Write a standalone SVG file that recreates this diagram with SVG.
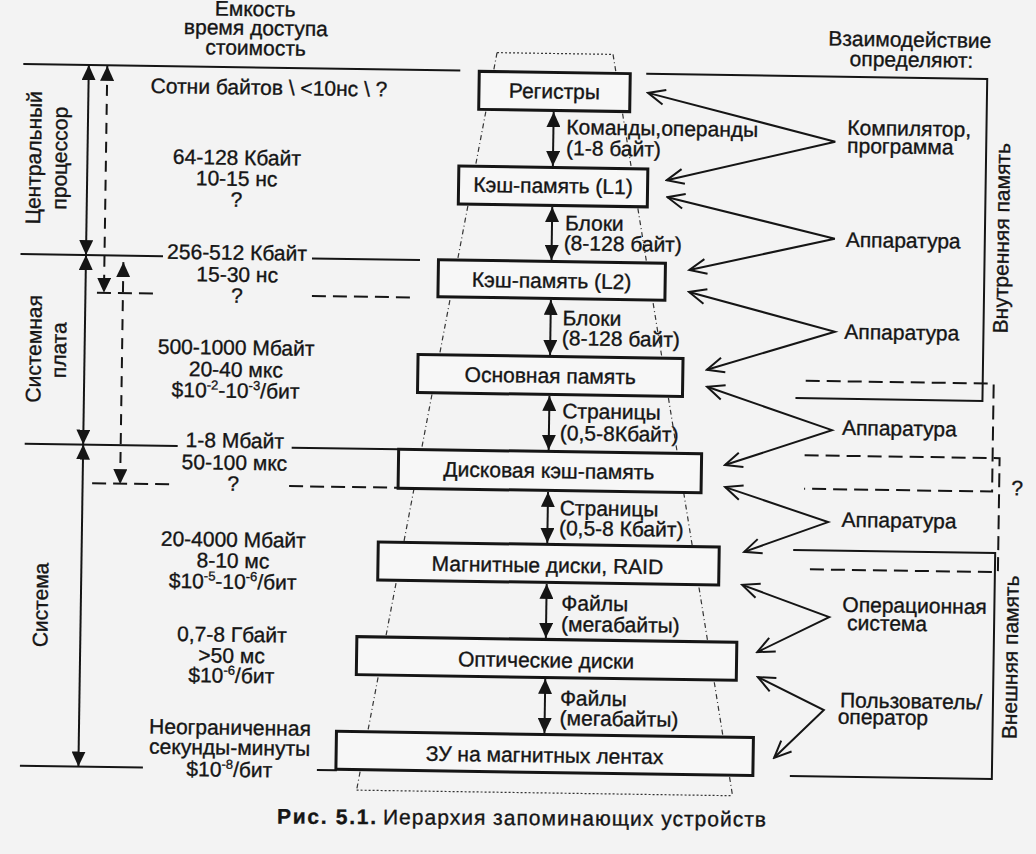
<svg xmlns="http://www.w3.org/2000/svg" width="1036" height="854" viewBox="0 0 1036 854">
<style>
text{font-family:"Liberation Sans",Arial,Helvetica,sans-serif;font-size:21px;fill:#151515;stroke:#151515;stroke-width:0.35}
.c{text-anchor:middle}
.sup{font-size:13px}
.box{fill:#f7f7f7;stroke:#151515;stroke-width:3}
.ln{fill:none;stroke:#151515;stroke-width:2}
.dl{fill:none;stroke:#151515;stroke-width:2;stroke-dasharray:14 7}
.vd{fill:none;stroke:#151515;stroke-width:2;stroke-dasharray:11 8}
.dot{fill:none;stroke:#333;stroke-width:1.2;stroke-dasharray:2 2}
.dd{fill:none;stroke:#333;stroke-width:1.2;stroke-dasharray:5 3 1 3}
.fa{marker-start:url(#fa);marker-end:url(#fa)}
.oa{fill:none;stroke:#151515;stroke-width:2;marker-start:url(#oa);marker-end:url(#oa)}
</style>
<defs>
<marker id="fa" viewBox="0 0 15 14" refX="15" refY="7" markerWidth="15" markerHeight="14" markerUnits="userSpaceOnUse" orient="auto-start-reverse"><path d="M0,0 L15,7 L0,14 z" fill="#151515"/></marker>
<marker id="oa" viewBox="-2 -2 21 19" refX="17" refY="7.5" markerWidth="21" markerHeight="19" markerUnits="userSpaceOnUse" orient="auto-start-reverse"><path d="M0,0 L17,7.5 L0,15" fill="none" stroke="#151515" stroke-width="2"/></marker>
</defs>
<rect x="0" y="0" width="1036" height="854" fill="#f3f3f3"/>
<g transform="rotate(0.85 518 427)">
  <g id="trapezoid">
    <path class="dot" d="M491.5,53 H607.5 M362,792.5 H738"/>
    <path class="dd" d="M491.5,53 L362,792.5 M607.5,53 L738,792.5"/>
  </g>
  <g id="connectors">
    <path class="ln fa" d="M549,111.5 V165.5"/>
    <path class="ln fa" d="M549,206.5 V259.5"/>
    <path class="ln fa" d="M549,299.5 V354.5"/>
    <path class="ln fa" d="M549,395.5 V449.5"/>
    <path class="ln fa" d="M549,491.5 V542.5"/>
    <path class="ln fa" d="M549,583.5 V637.5"/>
    <path class="ln fa" d="M549,678.5 V732.5"/>
    <path class="oa" d="M643,91 L831,137 L663,178"/>
    <path class="oa" d="M664,195 L832,234 L687,267.5"/>
    <path class="oa" d="M687,289.5 L833.5,327 L706,367"/>
    <path class="oa" d="M706.5,384 L832,425.5 L725.5,462"/>
    <path class="oa" d="M726,484 L829.5,517.5 L746,548.5"/>
    <path class="oa" d="M744.5,581.5 L832,612.5 L760.5,648.5"/>
    <path class="oa" d="M761.5,673.5 L828,705.5 L779,754"/>
    <path class="ln" d="M18,71.5 H455"/>
    <path class="ln" d="M18,261.5 H160.5 M309.5,261.5 H417.5"/>
    <path class="ln" d="M25,451 H178 M292,451 H399"/>
    <path class="ln" d="M25,773 H148 M322,773 H342"/>
    <path class="dl" d="M95,299 H155 M310,299 H411"/>
    <path class="dl" d="M93,489.5 H173 M290,489.5 H398"/>
    <path class="ln fa" d="M83.5,71.5 V261.5"/>
    <path class="ln fa" d="M83.5,261.5 V451"/>
    <path class="ln fa" d="M83.5,451 V773"/>
    <path class="vd fa" d="M102,72 V299"/>
    <path class="vd fa" d="M121,268 V490"/>
    <path class="ln" d="M641,72 H982 V394 H795"/>
    <path class="dl" d="M805,376.5 H993 V484.5 H805"/>
    <path class="dl" d="M805,451 H1000 V565 H805"/>
    <path class="ln" d="M795,546 H997 V772 H795"/>
  </g>
  <g id="n-reg"><rect class="box" x="474" y="72" width="151" height="38"/><text class="c" x="549.5" y="98">Регистры</text></g>
  <g id="n-l1"><rect class="box" x="455" y="167" width="189" height="38"/><text class="c" x="549.5" y="192.5">Кэш-память (L1)</text></g>
  <g id="n-l2"><rect class="box" x="436" y="261" width="227" height="37"/><text class="c" x="549.5" y="287.5">Кэш-память (L2)</text></g>
  <g id="n-main"><rect class="box" x="417" y="356" width="265" height="38"/><text class="c" x="549.5" y="382.5">Основная память</text></g>
  <g id="n-diskcache"><rect class="box" x="399" y="451" width="303" height="39"/><text class="c" x="549.5" y="477.5">Дисковая кэш-память</text></g>
  <g id="n-magdisk"><rect class="box" x="380" y="544" width="341" height="38"/><text class="c" x="549.5" y="572">Магнитные диски, RAID</text></g>
  <g id="n-optical"><rect class="box" x="360" y="639" width="380" height="38"/><text class="c" x="549.5" y="667">Оптические диски</text></g>
  <g id="n-tape"><rect class="box" x="341" y="734" width="417" height="38"/><text class="c" x="549.5" y="762">ЗУ на магнитных лентах</text></g>
  <g id="transfer-labels">
    <text x="562" y="133.5">Команды,операнды</text>
    <text x="562" y="154.5">(1-8 байт)</text>
    <text x="562" y="229.5">Блоки</text>
    <text x="561" y="249.5">(8-128 байт)</text>
    <text x="561" y="324.5">Блоки</text>
    <text x="560.5" y="344.5">(8-128 байт)</text>
    <text x="562" y="417.5">Страницы</text>
    <text x="560" y="439.5">(0,5-8Кбайт)</text>
    <text x="561" y="514.5">Страницы</text>
    <text x="560.5" y="534.5">(0,5-8 Кбайт)</text>
    <text x="564" y="609.5">Файлы</text>
    <text x="564" y="630.5">(мегабайты)</text>
    <text x="564" y="704.5">Файлы</text>
    <text x="564" y="724.5">(мегабайты)</text>
  </g>
  <g id="left-header">
    <text class="c" x="249" y="20">Емкость</text>
    <text class="c" x="250" y="39">время доступа</text>
    <text class="c" x="250" y="59">стоимость</text>
  </g>
  <g id="left-values">
    <text class="c" x="264" y="98.5">Сотни байтов \ &lt;10нс \ ?</text>
    <text class="c" x="233" y="169">64-128 Кбайт</text>
    <text class="c" x="233" y="190">10-15 нс</text>
    <text class="c" x="233" y="211">?</text>
    <text class="c" x="234.5" y="264">256-512 Кбайт</text>
    <text class="c" x="235" y="286">15-30 нс</text>
    <text class="c" x="235" y="307">?</text>
    <text class="c" x="235" y="359">500-1000 Мбайт</text>
    <text class="c" x="235" y="381">20-40 мкс</text>
    <text class="c" x="235" y="402">$10<tspan class="sup" dy="-8">-2</tspan><tspan dy="8">-10</tspan><tspan class="sup" dy="-8">-3</tspan><tspan dy="8">/бит</tspan></text>
    <text class="c" x="235" y="452">1-8 Мбайт</text>
    <text class="c" x="235" y="474">50-100 мкс</text>
    <text class="c" x="234" y="495">?</text>
    <text class="c" x="235" y="551">20-4000 Мбайт</text>
    <text class="c" x="235" y="572">8-10 мс</text>
    <text class="c" x="235" y="593">$10<tspan class="sup" dy="-8">-5</tspan><tspan dy="8">-10</tspan><tspan class="sup" dy="-8">-6</tspan><tspan dy="8">/бит</tspan></text>
    <text class="c" x="235" y="646">0,7-8 Гбайт</text>
    <text class="c" x="235" y="667">&gt;50 мс</text>
    <text class="c" x="235" y="687">$10<tspan class="sup" dy="-8">-6</tspan><tspan dy="8">/бит</tspan></text>
    <text class="c" x="234.5" y="739">Неограниченная</text>
    <text class="c" x="234.5" y="759">секунды-минуты</text>
    <text class="c" x="234.5" y="781">$10<tspan class="sup" dy="-8">-8</tspan><tspan dy="8">/бит</tspan></text>
  </g>
  <g id="left-levels">
    <text class="c" transform="translate(37,165) rotate(-90)">Центральный</text>
    <text class="c" transform="translate(63,165) rotate(-90)">процессор</text>
    <text class="c" transform="translate(40,356) rotate(-90)">Системная</text>
    <text class="c" transform="translate(65,357) rotate(-90)">плата</text>
    <text class="c" transform="translate(50.5,612) rotate(-90)">Система</text>
  </g>
  <g id="right-labels">
    <text class="c" x="904" y="41">Взаимодействие</text>
    <text class="c" x="906" y="61">определяют:</text>
    <text x="843" y="130">Компилятор,</text>
    <text x="843" y="148">программа</text>
    <text x="843" y="242">Аппаратура</text>
    <text x="843" y="334">Аппаратура</text>
    <text x="842" y="430">Аппаратура</text>
    <text x="843" y="522">Аппаратура</text>
    <text x="845" y="607">Операционная</text>
    <text x="850" y="625">система</text>
    <text x="844" y="702.5">Пользователь/</text>
    <text x="842" y="719">оператор</text>
    <text class="c" x="1018" y="488">?</text>
    <text class="c" transform="translate(1006,231) rotate(-90)">Внутренняя память</text>
    <text class="c" transform="translate(1021,650) rotate(-90)">Внешняя память</text>
  </g>
</g>
<g id="caption" transform="rotate(0.35 520 826)">
  <text x="277" y="825" font-size="24" font-weight="bold" textLength="99" lengthAdjust="spacing">Рис. 5.1.</text>
  <text x="383" y="825" font-size="23" textLength="383" lengthAdjust="spacing">Иерархия запоминающих устройств</text>
</g>
</svg>
